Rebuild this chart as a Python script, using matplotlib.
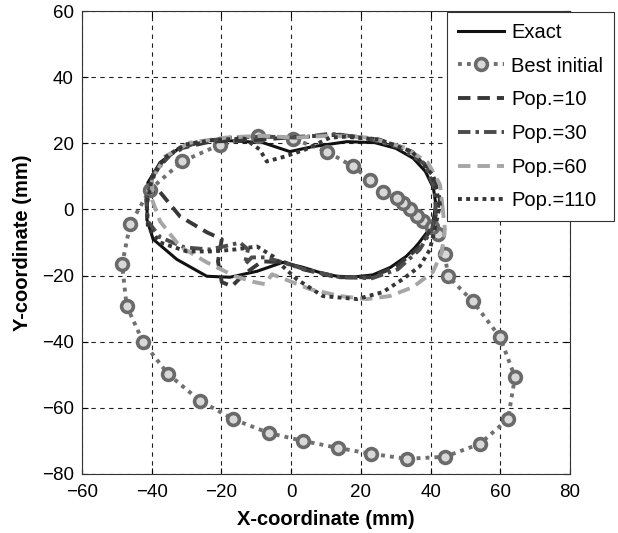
import matplotlib
matplotlib.use("Agg")
import matplotlib.pyplot as plt

plt.rcParams['font.family'] = ['Liberation Sans', 'DejaVu Sans']

# Trajectories (mm)
exact_x = [36.0, 33.0, 28.5, 23.4, 18.0, 13.1, 8.0, 3.4, -2.4, -9.8, -17.6, -24.2, -32.8,
           -39.6, -41.4, -41.1, -37.6, -31.9, -22.4, -8.1, -0.4, 6.2, 16.0, 24.0, 30.0,
           35.0, 38.5, 40.8, 41.5, 40.8, 38.9, 36.0]
exact_y = [-11.0, -14.2, -17.5, -19.8, -20.4, -20.2, -19.0, -17.5, -16.0, -18.7, -20.5,
           -20.2, -15.1, -9.0, -3.0, 8.1, 14.2, 18.7, 21.1, 20.2, 17.5, 19.0, 20.5, 20.2,
           18.5, 15.5, 11.5, 6.5, 1.5, -3.0, -7.0, -11.0]

best_x = [40.4, 37.8, 36.1, 34.1, 32.0, 30.3, 26.3, 22.6, 17.7, 10.3, 0.5, -9.5, -20.4,
          -31.3, -40.5, -46.2, -48.5, -47.2, -42.4, -35.3, -26.2, -16.7, -6.4, 3.4, 13.4,
          22.9, 33.2, 44.1, 54.1, 62.2, 64.2, 59.9, 52.1, 45.0, 44.1, 42.1, 40.4]
best_y = [-5.4, -3.6, -2.1, 0.0, 2.1, 3.6, 5.4, 9.0, 13.0, 17.5, 21.4, 22.3, 19.6,
          14.5, 6.0, -4.5, -16.6, -29.2, -40.2, -49.8, -57.8, -63.4, -67.6, -70.0, -72.1,
          -73.9, -75.4, -74.8, -70.9, -63.4, -50.7, -38.6, -27.8, -20.2, -13.6, -7.5, -5.4]

pop10_x = [40.6, 42.7, 40.4, 34.6, 25.4, 14.0, 2.5, -9.0, -23.3, -33.3, -39.1, -40.5,
           -38.2, -31.9, -24.2, -19.9, -21.0, -19.9, -17.0, -13.5, -8.4, -1.8, 3.4, 13.1,
           22.6, 30.3, 36.9, 40.6]
pop10_y = [-5.1, 3.0, 11.5, 17.5, 21.1, 22.6, 22.0, 21.1, 20.5, 18.1, 11.5, 5.1,
           6.0, -2.1, -6.9, -9.0, -15.7, -22.0, -23.2, -19.6, -15.7, -16.0, -18.1, -20.5,
           -20.5, -17.2, -11.2, -5.1]

pop30_x = [41.5, 41.2, 38.4, 31.2, 21.1, 11.1, 2.5, -7.5, -17.6, -27.6, -34.8, -39.6,
           -41.6, -41.1, -37.6, -30.5, -23.3, -18.1, -14.7, -12.4, -13.3, -11.3, -7.5,
           -2.4, 3.9, 14.0, 23.2, 30.6, 36.9, 40.4, 41.5]
pop30_y = [-1.5, 6.0, 13.6, 18.7, 21.7, 22.9, 21.7, 22.0, 21.7, 20.2, 16.6, 10.6,
           3.0, -3.6, -8.4, -11.5, -12.1, -10.9, -10.0, -12.1, -16.6, -14.5, -14.5,
           -16.0, -18.1, -20.5, -20.8, -18.1, -12.1, -6.0, -1.5]

pop60_x = [43.5, 42.7, 39.2, 32.6, 22.6, 11.1, 1.1, -9.0, -19.0, -29.0, -36.2, -39.9,
           -39.9, -37.6, -31.9, -24.2, -16.1, -10.4, -7.5, -5.5, -1.8, 5.4, 14.0, 21.7,
           28.3, 34.9, 40.6, 43.2, 44.1, 43.5]
pop60_y = [0.0, 7.5, 14.2, 18.7, 21.7, 22.3, 21.7, 22.3, 21.7, 20.2, 16.0, 9.0,
           3.0, -3.6, -11.2, -16.0, -20.2, -22.0, -22.6, -19.6, -21.1, -24.1, -26.2, -27.1,
           -26.2, -23.5, -19.0, -13.0, -6.0, 0.0]

pop110_x = [41.2, 42.7, 40.4, 34.6, 25.4, 15.4, 11.1, 4.0, -1.8, -7.0, -9.0, -13.3,
            -21.9, -30.5, -36.2, -39.9, -41.4, -41.1, -37.6, -29.9, -22.4, -16.1, -9.8,
            -5.2, -2.4, 1.6, 9.1, 18.9, 26.3, 32.0, 36.9, 39.8, 41.2]
pop110_y = [-6.0, 1.5, 10.6, 17.5, 21.1, 22.0, 21.7, 18.1, 16.0, 14.5, 18.1, 21.4,
            21.1, 19.6, 15.7, 9.7, 1.5, -5.4, -10.0, -12.7, -12.7, -12.1, -11.2,
            -14.2, -17.2, -21.1, -26.2, -27.1, -25.0, -21.1, -17.2, -12.1, -6.0]

labels = ['Exact', 'Best initial', 'Pop.=10', 'Pop.=30', 'Pop.=60', 'Pop.=110']
x_ticks = [-60, -40, -20, 0, 20, 40, 60, 80]
y_ticks = [-80, -60, -40, -20, 0, 20, 40, 60]

fig = plt.figure(figsize=(6.18, 5.33), dpi=100)
ax = fig.add_axes([0.1327, 0.1107, 0.7897, 0.8686])

lw = 2.8
ax.plot(exact_x, exact_y, color='#111111', lw=2.2, label=labels[0], zorder=3)
ax.plot(best_x, best_y, color='#707070', lw=lw, dashes=(1.0, 1.3),
        dash_capstyle='butt', marker='o', markersize=8.5, markeredgewidth=2.6,
        markeredgecolor='#6a6a6a', markerfacecolor='#d8d8d8', label=labels[1], zorder=3)
ax.plot(pop10_x, pop10_y, color='#383838', lw=lw, dashes=(3.2, 1.8),
        dash_capstyle='butt', label=labels[2], zorder=4)
ax.plot(pop30_x, pop30_y, color='#4c4c4c', lw=lw, dashes=(3.2, 1.3, 0.9, 1.3),
        dash_capstyle='butt', label=labels[3], zorder=4)
ax.plot(pop60_x, pop60_y, color='#a6a6a6', lw=lw, dashes=(3.2, 1.8),
        dash_capstyle='butt', label=labels[4], zorder=4)
ax.plot(pop110_x, pop110_y, color='#363636', lw=lw, dashes=(1.0, 1.1),
        dash_capstyle='butt', label=labels[5], zorder=4)

ax.set_xlim(-60, 80)
ax.set_ylim(-80, 60)
ax.set_xticks(x_ticks)
ax.set_yticks(y_ticks)
ax.tick_params(direction='in', length=4, width=0.8, labelsize=13.5,
               top=True, right=True)
ax.tick_params(axis='x', pad=7)
ax.tick_params(axis='y', pad=6)
ax.grid(True, color='#222222', linestyle=(0, (4, 4)), linewidth=0.8)
for s in ax.spines.values():
    s.set_linewidth(0.8)
    s.set_color('#333333')

ax.set_xlabel('X-coordinate (mm)', fontsize=14.5, fontweight='bold')
ax.set_ylabel('Y-coordinate (mm)', fontsize=14.5, fontweight='bold')
ax.xaxis.set_label_coords(0.5, -0.077)
ax.yaxis.set_label_coords(-0.103, 0.5)

leg = ax.legend(loc='upper left', bbox_to_anchor=(0.723, 0.978),
                bbox_transform=fig.transFigure, fontsize=14.5, frameon=True,
                fancybox=False, edgecolor='#333333', framealpha=1,
                handlelength=2.3, handletextpad=0.35, labelspacing=0.73,
                borderpad=0.55, borderaxespad=0)
leg.get_frame().set_linewidth(0.8)

fig.savefig('out.png', dpi=100)
